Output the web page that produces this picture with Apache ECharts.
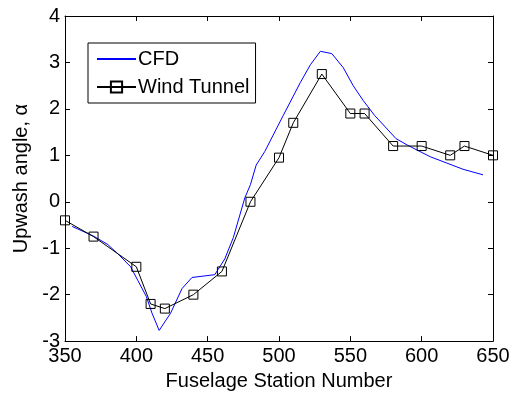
<!DOCTYPE html>
<html>
<head>
<meta charset="utf-8">
<style>
  html, body { margin: 0; padding: 0; background: #fff; }
  #chart { width: 517px; height: 396px; }
</style>
<script src="https://cdn.jsdelivr.net/npm/echarts@6/dist/echarts.min.js"></script>
</head>
<body>
<div id="chart"></div>
<script>
// Fuselage station vs. upwash angle
const cfdStation = [355, 370, 380, 388, 396, 401, 407, 411, 416, 424, 432, 439, 455, 462, 468, 476, 480, 484, 490, 503, 515, 522, 529, 537, 545, 552, 559, 567, 582, 590, 606, 629, 643];
const cfdUpwash  = [-0.53, -0.74, -0.92, -1.15, -1.40, -1.69, -2.04, -2.40, -2.77, -2.40, -1.87, -1.63, -1.57, -1.23, -0.77, 0.08, 0.37, 0.79, 1.08, 1.86, 2.57, 2.95, 3.24, 3.19, 2.89, 2.50, 2.18, 1.86, 1.36, 1.22, 0.97, 0.70, 0.58];

const wtStation = [350, 370, 400, 410, 420, 440, 460, 480, 500, 510, 530, 550, 560, 580, 600, 620, 630, 650];
const wtUpwash  = [-0.4, -0.75, -1.4, -2.2, -2.3, -2.0, -1.5, 0, 0.95, 1.7, 2.75, 1.9, 1.9, 1.2, 1.2, 1.0, 1.2, 1.0];

const xTicks = { min: 350, max: 650, interval: 50 };
const yTicks = { min: -3, max: 4, interval: 1 };

const FONT = '"Liberation Sans", Arial, sans-serif';
const pairs = (xs, ys) => xs.map((x, i) => [x, ys[i]]);

const axisBase = {
  axisLine: { show: true, onZero: false, lineStyle: { color: '#000', width: 1 } },
  axisTick: { show: true, inside: true, length: 5, lineStyle: { color: '#000', width: 1 } },
  splitLine: { show: false }
};

const chart = echarts.init(document.getElementById('chart'), null, { renderer: 'canvas' });
chart.setOption({
  animation: false,
  backgroundColor: '#fff',
  grid: { left: 65, top: 16, right: 24, bottom: 51, containLabel: false },
  legend: {
    show: true,
    orient: 'vertical',
    left: 88,
    top: 43,
    padding: [6, 6, 6, 8],
    itemGap: 8,
    itemWidth: 39,
    itemHeight: 14,
    backgroundColor: '#fff',
    borderColor: '#000',
    borderWidth: 1,
    borderRadius: 0,
    textStyle: { fontFamily: FONT, fontSize: 20, lineHeight: 20, color: '#000', padding: [0, 0, 0, -3] },
    data: [
      { name: 'CFD', itemStyle: { opacity: 0 } },
      { name: 'Wind Tunnel' }
    ]
  },
  xAxis: [
    Object.assign({
      type: 'value', position: 'bottom',
      min: xTicks.min, max: xTicks.max, interval: xTicks.interval,
      name: 'Fuselage Station Number', nameLocation: 'middle', nameGap: 28,
      nameTextStyle: { fontFamily: FONT, fontSize: 20, color: '#000' },
      axisLabel: { fontFamily: FONT, fontSize: 20, color: '#000', margin: 5 }
    }, axisBase),
    Object.assign({
      type: 'value', position: 'top',
      min: xTicks.min, max: xTicks.max, interval: xTicks.interval,
      axisLabel: { show: false }
    }, axisBase)
  ],
  yAxis: [
    Object.assign({
      type: 'value', position: 'left',
      min: yTicks.min, max: yTicks.max, interval: yTicks.interval,
      name: 'Upwash angle, α', nameLocation: 'middle', nameGap: 34,
      nameTextStyle: { fontFamily: FONT, fontSize: 20, color: '#000' },
      axisLabel: { fontFamily: FONT, fontSize: 20, color: '#000', margin: 5 }
    }, axisBase),
    Object.assign({
      type: 'value', position: 'right',
      min: yTicks.min, max: yTicks.max, interval: yTicks.interval,
      axisLabel: { show: false }
    }, axisBase)
  ],
  series: [
    {
      name: 'CFD',
      type: 'line',
      xAxisIndex: 0, yAxisIndex: 0,
      data: pairs(cfdStation, cfdUpwash),
      showSymbol: false,
      symbol: 'none',
      lineStyle: { color: '#0000ff', width: 1 },
      itemStyle: { color: '#0000ff' },
      z: 2
    },
    {
      name: 'Wind Tunnel',
      type: 'line',
      xAxisIndex: 0, yAxisIndex: 0,
      data: pairs(wtStation, wtUpwash),
      clip: false,
      symbol: 'rect',
      symbolSize: 9,
      lineStyle: { color: '#000', width: 1 },
      itemStyle: { color: 'rgba(0,0,0,0)', borderColor: '#000', borderWidth: 1 },
      z: 3
    }
  ]
});
</script>
</body>
</html>
